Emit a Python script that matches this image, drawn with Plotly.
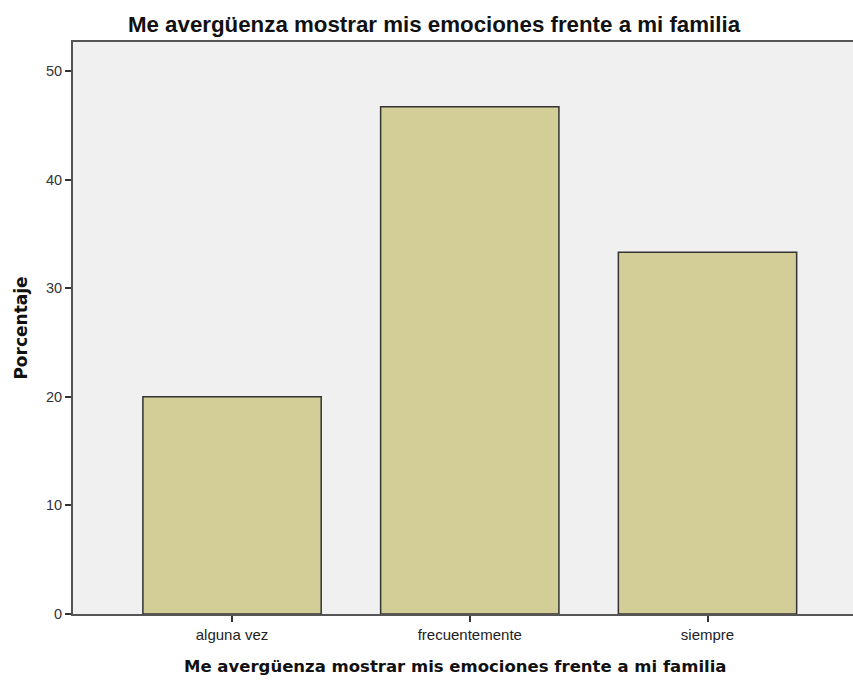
import plotly.graph_objects as go

categories = ["alguna vez", "frecuentemente", "siempre"]
values = [20.0, 46.7, 33.3]
y_ticks = [0, 10, 20, 30, 40, 50]

title_text = "Me avergüenza mostrar mis emociones frente a mi familia"
x_title_text = "Me avergüenza mostrar mis emociones frente a mi familia"
y_title_text = "Porcentaje"

W, H = 853, 681
L, R, T, B = 73, 0, 42, 67
plot_w = W - L - R
plot_h = H - T - B

fig = go.Figure()
fig.add_trace(go.Bar(
    x=list(range(len(categories))),
    y=values,
    width=0.75,
    marker=dict(color="#d3ce97", line=dict(color="#333333", width=1.5)),
    hoverinfo="y",
))

fig.update_layout(
    width=W, height=H,
    margin=dict(l=L, r=R, t=T, b=B),
    paper_bgcolor="white",
    plot_bgcolor="#f0f0f0",
    showlegend=False,
    title=dict(
        text=title_text,
        x=434/W, xanchor="center", xref="container",
        y=1 - 24/H, yanchor="middle", yref="container",
        font=dict(family="Liberation Sans", size=22.3, color="#111111", weight="bold"),
    ),
    font=dict(family="Liberation Sans", size=12, color="#222222"),
    annotations=[dict(
        text=x_title_text,
        xref="paper", yref="paper",
        x=(455 - L) / plot_w, y=-(666 - (H - B)) / plot_h,
        xanchor="center", yanchor="middle",
        showarrow=False,
        font=dict(family="DejaVu Sans", size=16.5, color="#111111", weight="bold"),
    )],
)

fig.update_xaxes(
    range=[-0.669, 2.612],
    tickmode="array",
    tickvals=list(range(len(categories))),
    ticktext=categories,
    ticks="outside", ticklen=6, tickwidth=1.5, tickcolor="#333333",
    showline=True, linecolor="#555555", linewidth=2, mirror=True,
    showgrid=False, zeroline=False,
    tickfont=dict(family="Liberation Sans", size=15, color="#222222"),
)

fig.update_yaxes(
    range=[0, 52.67],
    tickmode="array",
    tickvals=y_ticks,
    ticks="outside", ticklen=6, tickwidth=1.5, tickcolor="#333333",
    showline=True, linecolor="#555555", linewidth=2,
    showgrid=False, zeroline=False,
    tickfont=dict(family="Liberation Sans", size=14.5, color="#333333"),
    title=dict(
        text=y_title_text,
        font=dict(family="DejaVu Sans", size=17, color="#111111", weight="bold"),
        standoff=14,
    ),
)

fig.write_html("out.html", config={"displayModeBar": False})

with open("out.html", "r", encoding="utf-8") as f:
    html = f.read()
html = html.replace("<head>", "<head><style>html,body{margin:0;padding:0;}</style>", 1)
with open("out.html", "w", encoding="utf-8") as f:
    f.write(html)
